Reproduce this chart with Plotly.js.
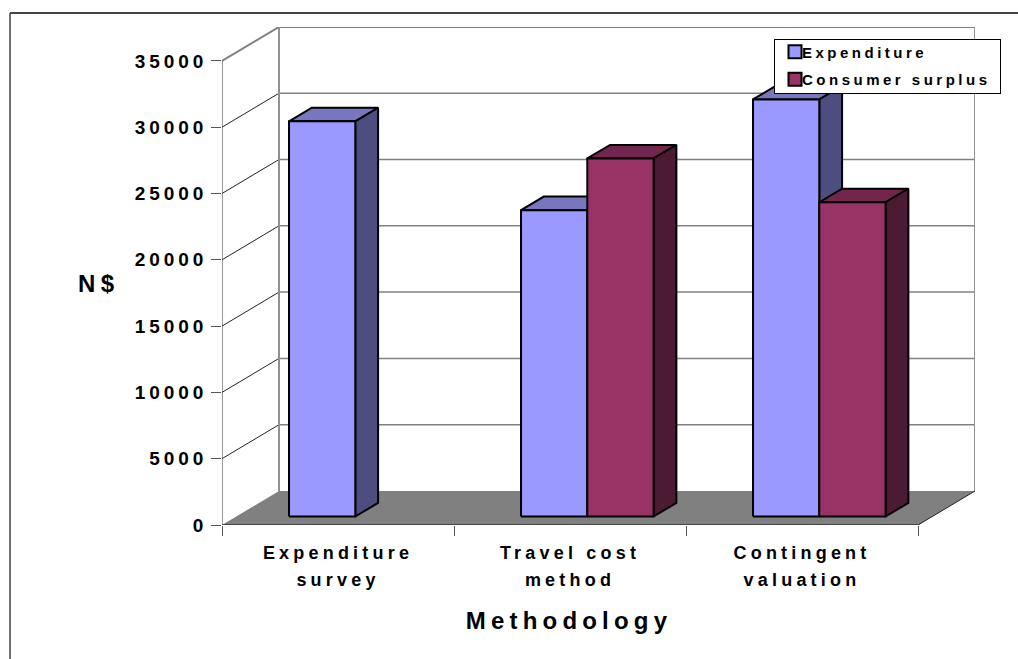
<!DOCTYPE html>
<html>
<head>
<meta charset="utf-8">
<script src="https://cdn.plot.ly/plotly-3.0.1.min.js"></script>
<style>
  html, body { margin: 0; padding: 0; background: #fff; }
  #chart { width: 1018px; height: 659px; }
  /* Widely tracked lettering used for the axis labels */
  .ytick text { letter-spacing: 3.9px; }
  .xtick text { letter-spacing: 4.2px; }
  .xtitle { letter-spacing: 5.2px; }
  .annotation-text { letter-spacing: 5.5px; }
</style>
</head>
<body>
<div id="chart"></div>
<script>
// Recreation value per visitor, by valuation method
const categories = ['Expenditure<br>survey', 'Travel cost<br>method', 'Contingent<br>valuation'];
const expenditure = [29800, 23100, 31450];
const consumerSurplus = [null, 27000, 23700];
const valueTicks = [0, 5000, 10000, 15000, 20000, 25000, 30000, 35000];

// Oblique projection: one unit of depth moves a point right and up on the axes
const DEPTH_X = 0.2457;
const DEPTH_Y = 2564;
const BAR_FRONT = 0.25;
const BAR_DEPTH = 0.4;
const BAR_START = 0.2274;
const BAR_WIDTH = 2 / 7;
const LAST_CAT = categories.length;
const FONT = 'Liberation Sans, Arial, sans-serif';

const px = (c, d) => c + d * DEPTH_X;
const py = (v, d) => v + d * DEPTH_Y;

function polyTrace(points, fill, lineOpts) {
  const x = [], y = [];
  points.forEach(poly => {
    poly.forEach(p => { x.push(p[0]); y.push(p[1]); });
    x.push(null); y.push(null);
  });
  return {
    type: 'scatter', mode: 'lines', x, y, fill: 'toself', fillcolor: fill,
    line: lineOpts, showlegend: false, hoverinfo: 'skip', cliponaxis: false
  };
}

function lineTrace(x, y, color, width) {
  return {
    type: 'scatter', mode: 'lines', x, y,
    line: { color, width }, showlegend: false, hoverinfo: 'skip', cliponaxis: false
  };
}

// Three faces of each column in one series; slot is 0 or 1 inside a category
function barFaces(values, slot, colors) {
  const front = [], side = [], top = [];
  const d0 = BAR_FRONT, d1 = BAR_FRONT + BAR_DEPTH;
  values.forEach((v, i) => {
    if (v === null) return;
    const l = i + BAR_START + slot * BAR_WIDTH;
    const r = l + BAR_WIDTH;
    front.push([[px(l, d0), py(0, d0)], [px(r, d0), py(0, d0)], [px(r, d0), py(v, d0)], [px(l, d0), py(v, d0)], [px(l, d0), py(0, d0)]]);
    side.push([[px(r, d0), py(0, d0)], [px(r, d1), py(0, d1)], [px(r, d1), py(v, d1)], [px(r, d0), py(v, d0)], [px(r, d0), py(0, d0)]]);
    top.push([[px(l, d0), py(v, d0)], [px(r, d0), py(v, d0)], [px(r, d1), py(v, d1)], [px(l, d1), py(v, d1)], [px(l, d0), py(v, d0)]]);
  });
  const edge = { color: '#000', width: 2 };
  return [
    polyTrace(top, colors.top, edge),
    polyTrace(side, colors.side, edge),
    polyTrace(front, colors.front, edge)
  ];
}

const traces = [];

// Floor
traces.push(polyTrace([[[0, 0], [px(0, 1), py(0, 1)], [px(LAST_CAT, 1), py(0, 1)], [LAST_CAT, 0], [0, 0]]],
  '#808080', { color: '#808080', width: 0 }));

// Back wall grid and the matching oblique lines on the side wall
valueTicks.forEach(v => {
  const isTop = v === valueTicks[valueTicks.length - 1];
  if (v > 0) {
    traces.push(lineTrace([px(0, 1), px(LAST_CAT, 1)], [py(v, 1), py(v, 1)], '#808080', isTop ? 2 : 1.5));
    traces.push(lineTrace([0, px(0, 1)], [v, py(v, 1)], isTop ? '#808080' : '#222', isTop ? 2 : 1));
  }
});
const peak = valueTicks[valueTicks.length - 1];
traces.push(lineTrace([px(0, 1), px(0, 1)], [py(0, 1), py(peak, 1)], '#909090', 2));
traces.push(lineTrace([px(LAST_CAT, 1), px(LAST_CAT, 1)], [py(0, 1), py(peak, 1)], '#909090', 2));
traces.push(lineTrace([LAST_CAT, px(LAST_CAT, 1)], [0, py(0, 1)], '#222', 1));

// Columns
const expColors = { front: '#9999FF', side: '#4D4D80', top: '#7777BF' };
const csColors = { front: '#993366', side: '#4D1A33', top: '#73264D' };
traces.push(...barFaces(expenditure, 0, expColors));
traces.push(...barFaces(consumerSurplus, 1, csColors));

// Front axis lines
traces.push(lineTrace([0, 0], [0, peak], '#333', 1));
traces.push(lineTrace([0, LAST_CAT], [0, 0], '#333', 1.5));

// Legend keys
[['Expenditure', expColors.front], ['Consumer surplus', csColors.front]].forEach(([name, color]) => {
  traces.push({
    type: 'scatter', mode: 'markers', x: [null], y: [null], name, legendgroup: name,
    marker: { symbol: 'square', size: 13, color, line: { color: '#000', width: 2 } },
    hoverinfo: 'skip'
  });
});

const M = { l: 222, r: 43, t: 27, b: 134 };
const W = 1018, H = 659;
const plotW = W - M.l - M.r, plotH = H - M.t - M.b;
const paperX = p => (p - M.l) / plotW;
const paperY = p => 1 - (p - M.t) / plotH;

const layout = {
  width: W, height: H, margin: M,
  paper_bgcolor: '#fff', plot_bgcolor: 'rgba(0,0,0,0)',
  font: { family: FONT, color: '#000' },
  xaxis: {
    range: [0, plotW / 232],
    tickmode: 'array',
    tickvals: categories.map((_, i) => i + 0.5),
    ticktext: categories,
    tickangle: 0,
    ticks: '', ticklen: 0,
    ticklabelstandoff: 15,
    tickfont: { family: FONT, size: 18, color: '#000', weight: 'bold' },
    minor: { tickmode: 'array', tickvals: [0, 1, 2, 3], ticks: 'outside', ticklen: 10, tickcolor: '#555', tickwidth: 1 },
    showgrid: false, zeroline: false, showline: false, fixedrange: true,
    title: { text: 'Methodology', standoff: 26, font: { family: FONT, size: 24, color: '#000', weight: 'bold' } }
  },
  yaxis: {
    range: [0, plotH / 66.3 * 5000],
    tickmode: 'array',
    tickvals: valueTicks,
    ticktext: valueTicks.map(String),
    ticks: 'outside', ticklen: 10, tickcolor: '#555', tickwidth: 1,
    tickfont: { family: FONT, size: 19, color: '#000', weight: 'bold' },
    showgrid: false, zeroline: false, showline: false, fixedrange: true
  },
  legend: {
    x: paperX(774), y: paperY(39), xanchor: 'left', yanchor: 'top',
    bgcolor: '#fff', bordercolor: '#000', borderwidth: 1,
    font: { family: FONT, size: 15, color: '#000', weight: 'bold' },
    traceorder: 'normal', itemwidth: 30, itemclick: false, itemdoubleclick: false
  },
  showlegend: true,
  annotations: [{
    text: '<b>N$</b>', xref: 'paper', yref: 'paper', x: paperX(99), y: paperY(283),
    xanchor: 'center', yanchor: 'middle', showarrow: false,
    font: { family: FONT, size: 24, color: '#000' }
  }],
  shapes: [
    { type: 'line', xref: 'paper', yref: 'paper', x0: paperX(10), x1: paperX(1018), y0: paperY(13), y1: paperY(13), line: { color: '#444', width: 2 } },
    { type: 'line', xref: 'paper', yref: 'paper', x0: paperX(10), x1: paperX(10), y0: paperY(13), y1: paperY(659), line: { color: '#444', width: 1.5 } }
  ]
};

Plotly.newPlot('chart', traces, layout, { displayModeBar: false }).then(gd => {
  // Open up the leading of the two-line category labels
  gd.querySelectorAll('.xtick text').forEach(t => {
    t.querySelectorAll('tspan.line').forEach((l, i) => {
      if (i > 0) l.setAttribute('y', parseFloat(l.getAttribute('y')) + 4);
    });
  });
  // Centre the axis title under the front edge of the floor
  const xTitle = gd.querySelector('.xtitle');
  if (xTitle) {
    xTitle.setAttribute('x', 569);
    xTitle.querySelectorAll('tspan').forEach(s => { if (s.getAttribute('x')) s.setAttribute('x', 569); });
  }
  // Legend lettering is tracked after layout so the margins stay put;
  // keys and text sit closer together, the two rows spread apart, and the box
  // is sized around the wider text
  gd.querySelectorAll('.legendtext').forEach(t => {
    t.setAttribute('x', 27);
    t.style.letterSpacing = '3.5px';
  });
  const rowShift = [-4.5, 0.5];
  gd.querySelectorAll('.legend .traces').forEach((g, i) => {
    const base = g.getAttribute('transform') || '';
    g.setAttribute('transform', base + ' translate(0,' + rowShift[i] + ')');
  });
  const box = gd.querySelector('.legend .bg');
  if (box) { box.setAttribute('height', 54); box.setAttribute('width', 226); }
  const scroll = gd.querySelector('.legend .scrollbox');
  if (scroll) scroll.removeAttribute('clip-path');
});
</script>
</body>
</html>
